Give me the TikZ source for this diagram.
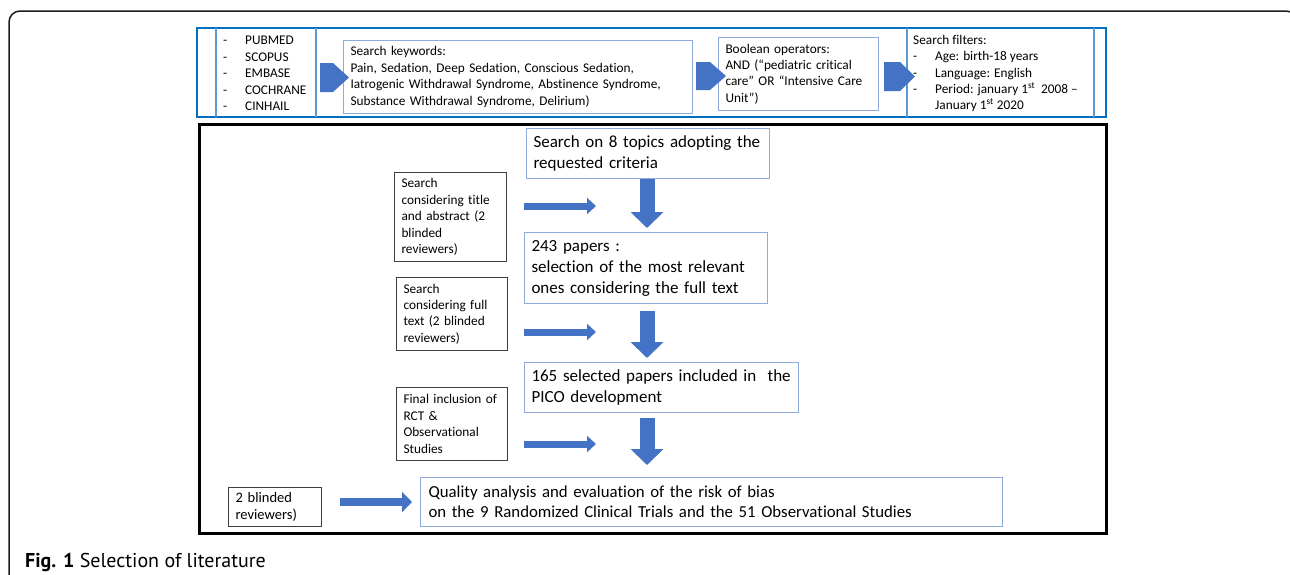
\documentclass[tikz,border=0pt]{standalone}
\usepackage{fontspec}
\setmainfont{Carlito}[Ligatures=NoCommon]
\newfontfamily\capfont{PT Sans}
\usetikzlibrary{arrows.meta,calc}
\definecolor{arrowblue}{HTML}{4472C4}
\definecolor{boxblue}{HTML}{8FAADC}
\definecolor{bandblue}{HTML}{0070C0}
\definecolor{cellblue}{HTML}{5B9BD5}
\definecolor{framecol}{HTML}{1E1E1E}
\definecolor{graycol}{HTML}{404040}
\begin{document}
\begin{tikzpicture}[x=1pt,y=-1pt,
  smallfont/.style={font=\fontsize{13.3}{16.4}\selectfont},
  bigfont/.style={font=\fontsize{17}{21}\selectfont},
  bluebox/.style={draw=boxblue, line width=1pt, anchor=north west, inner xsep=7pt, inner ysep=0pt, align=left},
  graybox/.style={draw=graycol, line width=1pt, anchor=north west, inner xsep=7pt, inner ysep=0pt, align=left, smallfont},
  plaintext/.style={anchor=west, inner sep=0pt, align=left, smallfont},
  chevron/.style={fill=arrowblue},
  downarrow/.style={draw=arrowblue, line width=15pt, -{Triangle[length=16pt,width=32pt]}},
  rightarrow/.style={draw=arrowblue, line width=7pt, -{Triangle[length=9pt,width=16pt]}},
  rightarrowbig/.style={draw=arrowblue, line width=8pt, -{Triangle[length=10pt,width=20pt]}}
]
\useasboundingbox (0,0) rectangle (1290,574);
\fill[white] (0,0) rectangle (1290,574);
\begin{scope}
  \clip (0,0) rectangle (1290,574);
  \draw[framecol, line width=1.5pt, rounded corners=11pt] (9,620) -- (9,11) -- (1297,11) -- (1297,620);
\end{scope}

% ---- top band (search strategy table)
\draw[bandblue, line width=2pt] (197,28) rectangle (1106,117);
\draw[cellblue, line width=1.2pt] (216,28) -- (216,117);
\draw[cellblue, line width=1.2pt] (316,28) -- (316,117);
\draw[cellblue, line width=1.2pt] (907,28) -- (907,117);
\draw[cellblue, line width=1.2pt] (1094,28) -- (1094,117);

\node[plaintext] (db) at (223,73.5) {%
  \makebox[22pt][l]{-}PUBMED\\
  \makebox[22pt][l]{-}SCOPUS\\
  \makebox[22pt][l]{-}EMBASE\\
  \makebox[22pt][l]{-}COCHRANE\\
  \makebox[22pt][l]{-}CINHAIL};

\node[bluebox, smallfont, text width=335pt, minimum height=73pt] (kw) at (343,40) {%
  \mbox{Search keywords:}\\
  \mbox{Pain, Sedation, Deep Sedation, Conscious Sedation,}\\
  \mbox{Iatrogenic Withdrawal Syndrome, Abstinence Syndrome,}\\
  \mbox{Substance Withdrawal Syndrome, Delirium)}};

\node[bluebox, smallfont, text width=146pt, minimum height=73pt] (bo) at (718,37) {%
  \mbox{Boolean operators:}\\
  \mbox{AND (“pediatric critical}\\
  \mbox{care” OR “Intensive Care}\\
  \mbox{Unit”)}};

\node[plaintext] (sf) at (913,73.5) {%
  Search filters:\\
  \makebox[22pt][l]{-}Age: birth-18 years\\
  \makebox[22pt][l]{-}Language: English\\
  \makebox[22pt][l]{-}Period: january 1\textsuperscript{st}\ \ 2008 –\\
  \hspace*{22pt}January 1\textsuperscript{st} 2020};

\fill[chevron] (320,63) -- (333,63) -- (349,77.5) -- (333,92) -- (320,92) -- cycle;
\fill[chevron] (696,62) -- (710,62) -- (726,76) -- (710,90) -- (696,90) -- cycle;
\fill[chevron] (884,62) -- (900,62) -- (915,76.5) -- (900,91) -- (884,91) -- cycle;

% ---- main flow box
\draw[black, line width=3pt] (199,124) rectangle (1106,533);

\node[bluebox, bigfont, text width=229pt, minimum height=50pt] (s1) at (526,128) {%
  \mbox{Search on 8 topics adopting the}\\
  \mbox{requested criteria}};
\node[bluebox, bigfont, text width=229pt, minimum height=71pt] (s2) at (524,232) {%
  \mbox{243 papers :}\\
  \mbox{selection of the most relevant}\\
  \mbox{ones considering the full text}};
\node[bluebox, bigfont, text width=260pt, minimum height=50pt] (s3) at (524,362) {%
  \mbox{165 selected papers included in\ \ the}\\
  \mbox{PICO development}};
\node[bluebox, font=\fontsize{16.8}{20}\selectfont, inner xsep=8pt, text width=566pt, minimum height=49pt] (s4) at (420,477) {%
  \mbox{Quality analysis and evaluation of the risk of bias}\\
  \mbox{on the 9 Randomized Clinical Trials and the 51 Observational Studies}};

\node[graybox, text width=98pt, minimum height=89pt] (l1) at (394,172) {%
  \mbox{Search}\\
  \mbox{considering title}\\
  \mbox{and abstract (2}\\
  \mbox{blinded}\\
  \mbox{reviewers)}};
\node[graybox, text width=97pt, minimum height=73pt] (l2) at (396,277) {%
  \mbox{Search}\\
  \mbox{considering full}\\
  \mbox{text (2 blinded}\\
  \mbox{reviewers)}};
\node[graybox, text width=97pt, minimum height=73pt] (l3) at (396,387) {%
  \mbox{Final inclusion of}\\
  \mbox{RCT \&}\\
  \mbox{Observational}\\
  \mbox{Studies}};
\node[graybox, font=\fontsize{14.5}{16.5}\selectfont, inner xsep=7pt, text width=79pt, minimum height=39pt] (l4) at (228,487) {%
  \mbox{2 blinded}\\
  \mbox{reviewers)}};

% ---- down arrows
\coordinate (axis) at (647,0);
\draw[downarrow] (s1.south -| axis) -- ([yshift=4pt]s2.north -| axis);
\draw[downarrow] ([yshift=-7pt]s2.south -| axis) -- ([yshift=4pt]s3.north -| axis);
\draw[downarrow] ([yshift=-5pt]s3.south -| axis) -- ([yshift=12pt]s4.north -| axis);

% ---- right arrows
\coordinate (r1a) at (524,206); \coordinate (r1b) at (596,206);
\coordinate (r2a) at (524,332); \coordinate (r2b) at (596,332);
\coordinate (r3a) at (524,444); \coordinate (r3b) at (596,444);
\coordinate (r4a) at (340,502);
\draw[rightarrow] (r1a) -- (r1b);
\draw[rightarrow] (r2a) -- (r2b);
\draw[rightarrow] (r3a) -- (r3b);
\draw[rightarrowbig] (r4a) -- ([xshift=-8pt]s4.west |- r4a);

% ---- caption
\node[anchor=base west, inner sep=0pt, font=\capfont\fontsize{20}{24}\selectfont] (cap) at (25,567) {\textbf{Fig. 1} Selection of literature};
\end{tikzpicture}
\end{document}
